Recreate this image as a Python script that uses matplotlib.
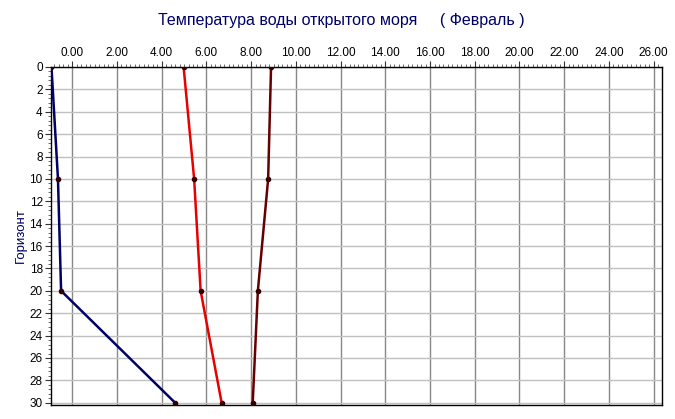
import matplotlib
matplotlib.use("Agg")
import matplotlib.pyplot as plt
from matplotlib.ticker import MultipleLocator, FormatStrFormatter

plt.rcParams['font.family'] = ['Liberation Sans', 'DejaVu Sans']

# горизонты (м) и температура по трём кривым
depth = [0, 10, 20, 30]
temp_blue = [-0.93, -0.64, -0.50, 4.60]
temp_red = [4.98, 5.45, 5.74, 6.68]
temp_dark = [8.89, 8.76, 8.30, 8.07]

xticks = list(range(0, 27, 2))
yticks = list(range(0, 31, 2))

fig = plt.figure(figsize=(6.75, 4.19), dpi=100)
ax = fig.add_axes([0.0756, 0.0334, 0.905, 0.8067])

for t, c in [(temp_blue, '#000066'), (temp_red, '#e80000'), (temp_dark, '#660000')]:
    ax.plot(t, depth, color=c, lw=1.8, marker='o', ms=3,
            mfc='#330000', mec='#330000', zorder=3)

ax.set_xlim(-0.95, 26.37)
ax.set_ylim(30.2, 0)

ax.xaxis.tick_top()
ax.set_xticks(xticks)
ax.set_yticks(yticks)
ax.xaxis.set_major_formatter(FormatStrFormatter('%.2f'))
ax.xaxis.set_minor_locator(MultipleLocator(0.2))
ax.yaxis.set_minor_locator(MultipleLocator(0.4))
ax.tick_params(axis='both', which='major', length=4, labelsize=8.5, pad=2, color='#333333')
ax.tick_params(axis='both', which='minor', length=2, color='#555555')

for v in xticks:
    ax.axvline(v, color='#888888', lw=1, zorder=1)
for v in yticks:
    ax.axhline(v, color='#c0c0c0', lw=1, zorder=1)

for s in ax.spines.values():
    s.set_color('black')
    s.set_linewidth(1)

ax.set_ylabel('Горизонт', color='#000066', fontsize=9.5)
ax.yaxis.set_label_coords(-0.039, 0.5)
fig.text(0.505, 0.95, 'Температура воды открытого моря     ( Февраль )',
         ha='center', va='center', color='#000066', fontsize=11.5)

fig.savefig('out.png', dpi=100)
